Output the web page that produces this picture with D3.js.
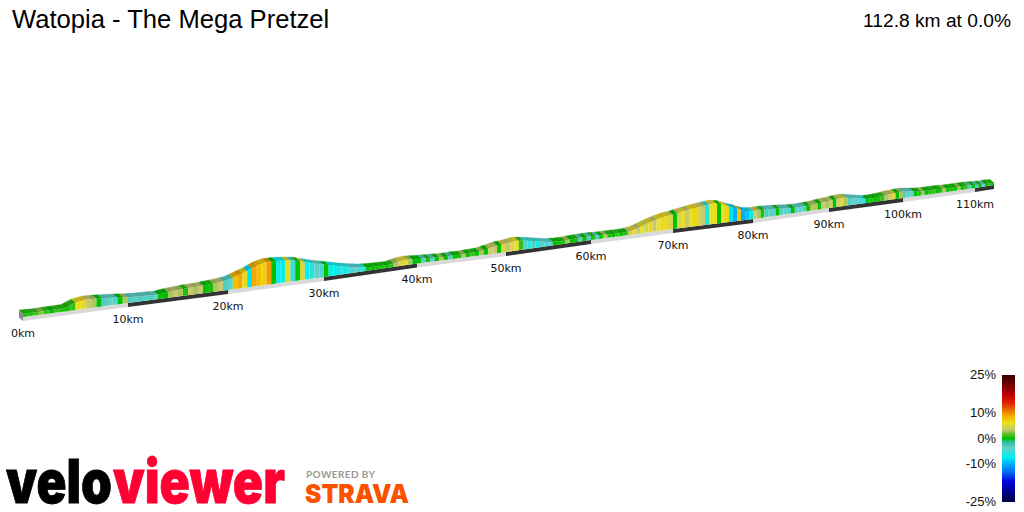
<!DOCTYPE html>
<html>
<head>
<meta charset="utf-8">
<title>Watopia - The Mega Pretzel</title>
<script src="https://cdn.jsdelivr.net/npm/d3@7"></script>
<style>
html, body { margin: 0; padding: 0; background: #fff; }
svg { display: block; }
text { font-family: "Liberation Sans", Arial, sans-serif; }
</style>
</head>
<body>
<svg id="chart" width="1024" height="512"></svg>
<script>
let routeTitle = 'Watopia - The Mega Pretzel';
let routeInfo = '112.8 km at 0.0%';
let routeLength = 112.8;

// perspective of the road: km -> screen position
let baseKm = [0, 10, 20, 30, 40, 50, 60, 70, 80, 90, 100, 110, 112.8];
let baseScreenX = [23, 128, 228, 324, 417, 506, 591, 673, 753, 829, 903, 975, 994];
let baseScreenY = [317, 303, 290, 277, 263.5, 252, 240, 229, 219, 208, 198, 188, 185];

// elevation (m) at each km, last one is the finish
let elevation = [
	50, 42, 44, 46, 48, 130, 160, 154, 136, 118,
	96, 84, 78, 72, 96, 110, 124, 128, 142, 156,
	180, 244, 308, 392, 436, 430, 414, 388, 332, 276,
	230, 183, 136, 96, 62, 46, 38, 32, 74, 88,
	70, 62, 54, 40, 48, 46, 52, 58, 96, 134,
	150, 176, 162, 128, 94, 60, 44, 44, 52, 56,
	58, 50, 46, 46, 44, 60, 108, 166, 214, 252,
	270, 300, 330, 350, 370, 390, 360, 290, 230, 160,
	140, 140, 130, 118, 106, 88, 82, 88, 96, 114,
	120, 140, 150, 120, 90, 60, 60, 70, 90, 100,
	110, 90, 70, 60, 60, 60, 50, 50, 50, 50,
	40, 30, 30, 20
];
let elevationKm = d3.range(0, 113).concat([routeLength]);

// gradient (%) of each 0.5 km strip
let grades = [
	0.5, 0.5, 1, 2.5, 1, 0, 1, 0.5, 0.5, 1,
	6, 6.5, 3.5, 3, 0, -3, -3.5, -4, 0, 3,
	-3, -3.5, -3, -4, -3, -3.5, 0, 0, 3, 3.5,
	3, 0.5, 3.5, 3, 3.5, 0, 0.5, 3, 3.5, -3,
	-4, 8, 9, 6.5, -8, 9, 8, 7, 9.5, 0,
	-7, -7.5, 6.5, -5, 0, 5, -7, -6, -3.5, -4.5,
	0, -7.5, -7, -6, -7, -5, -4, -4.5, -6, 0,
	0, 0, 0.5, 0, 1, 3, 5, 5.5, 3, 0,
	0, -3, 0.5, -3, 0, 3, 0, -3, 0, 0.5,
	3, 0, 1, 0, 3, 0, 4, 3.5, 0, 5,
	3.5, 5, 6, 1, -4, -6, -3, -7, -3.5, -5,
	-4, 0, 0, 0.5, 3, 0, 0.5, -3, 0, -3,
	0.5, -3, 0, 3, 0.5, 0, 1, 0, 0.5, 4,
	5.5, 3.5, 6, 4.5, 6.5, 3.5, 6, 6.5, 6.5, 4.5,
	0, 4.5, 6, 3.5, 6, 6.5, 4.5, 3.5, -6, 6,
	6, 0, 6, 6.5, -8, -10, 8, -10, -9, -7,
	4, 3, 0.5, -3, -4, -3.5, 0, -3, -4, -3,
	0, -3.5, -4, -3, 0, 3, 3, 0, 3.5, 3,
	4, 0, 4, 5, 3, -3, -3.5, -4, -5, -6,
	0, 0.5, 0, 0.5, 1, 3, 3.5, 5, 0, 3,
	-3, -4, -3.5, 0, 0.5, 3, 0, 0.5, 1, 0,
	0.5, 3, 0, 0.5, 0, 3, 0, 1, -3, 0,
	-3, 0, -3.5, 0, 0.5, 0
];

let kmTicks = [0, 10, 20, 30, 40, 50, 60, 70, 80, 90, 100, 110];

// legend colour ramp
let rampGrades = [-25, -21, -17, -13, -10, -7.5, -3.5, -1.5, 0, 1.5, 3.5, 6, 8, 10, 14, 17, 25];
let rampColors = ['#000040', '#000090', '#0000e0', '#0070f0', '#00b0ff', '#00f0f0', '#60d0c8', '#30c0a0',
	'#00c000', '#50c020', '#c8c870', '#e8e020', '#f5c000', '#f09000', '#e02000', '#c00000', '#300000'];
let legendTicks = [25, 10, 0, -10, -25];

let svg = d3.select('#chart');

let xAt = d3.scaleLinear().domain(baseKm).range(baseScreenX);
let yAt = d3.scaleLinear().domain(baseKm).range(baseScreenY);
let elevAt = d3.scaleLinear().domain(elevationKm).range(elevation);
let heightPx = d3.scaleLinear().domain([0, 600]).range([1, 31]);
let gradeColor = d3.scaleLinear().domain(rampGrades).range(rampColors);

let backX = -4, backY = -3.5;	// width of the road on screen
let bandH = 4;
let topDarken = 0.6;

function topY(km) {
	return yAt(km) - heightPx(elevAt(km));
}

function poly(pts) {
	return pts.map(p => p[0].toFixed(2) + ',' + p[1].toFixed(2)).join(' ');
}

// band under the road, light and dark every 10 km
let bandStarts = kmTicks.slice();
let band = svg.append('g');
band.selectAll('polygon').data(bandStarts).join('polygon')
	.attr('points', d => {
		let e = Math.min(d + 10, routeLength);
		return poly([[xAt(d), yAt(d)], [xAt(e), yAt(e)], [xAt(e), yAt(e) + bandH], [xAt(d), yAt(d) + bandH]]);
	})
	.attr('fill', (d, i) => i % 2 ? '#333333' : '#d9d9d9');

// end of the road, left side
svg.append('polygon')
	.attr('points', poly([[xAt(0) + backX, topY(0) + backY], [xAt(0), topY(0)], [xAt(0), yAt(0) + bandH], [xAt(0) + backX, yAt(0) + bandH + backY]]))
	.attr('fill', '#8a8a8a');

let strips = grades.map((g, i) => ({ grade: g, from: i * 0.5, to: Math.min((i + 1) * 0.5, routeLength) }));

// top surface of the road
svg.append('g').selectAll('polygon').data(strips).join('polygon')
	.attr('points', d => poly([
		[xAt(d.from), topY(d.from)], [xAt(d.to), topY(d.to)],
		[xAt(d.to) + backX, topY(d.to) + backY], [xAt(d.from) + backX, topY(d.from) + backY]
	]))
	.attr('fill', d => d3.color(gradeColor(d.grade)).darker(topDarken))
	.attr('stroke', d => d3.color(gradeColor(d.grade)).darker(topDarken))
	.attr('stroke-width', 0.3);

// front face
svg.append('g').selectAll('polygon').data(strips).join('polygon')
	.attr('points', d => poly([
		[xAt(d.from), topY(d.from)], [xAt(d.to), topY(d.to)],
		[xAt(d.to), yAt(d.to)], [xAt(d.from), yAt(d.from)]
	]))
	.attr('fill', d => gradeColor(d.grade));

// km labels
svg.append('g').selectAll('text').data(kmTicks).join('text')
	.attr('x', d => xAt(d))
	.attr('y', d => yAt(d) + 19.5)
	.attr('text-anchor', 'middle')
	.style('font-family', '"DejaVu Sans"')
	.style('font-size', '11px')
	.attr('fill', '#111')
	.text(d => d + 'km');

// titles
svg.append('text').attr('x', 12).attr('y', 28)
	.style('font-size', '25.6px').attr('fill', '#000').text(routeTitle);
svg.append('text').attr('x', 1011).attr('y', 27).attr('text-anchor', 'end')
	.style('font-size', '19.2px').attr('fill', '#000').text(routeInfo);

// legend
let legendY = d3.scaleLinear().domain([25, -25]).range([375, 502]);
let defs = svg.append('defs');
let grad = defs.append('linearGradient').attr('id', 'gradeRamp')
	.attr('x1', 0).attr('x2', 0).attr('y1', 0).attr('y2', 1);
grad.selectAll('stop').data(rampGrades.slice().reverse()).join('stop')
	.attr('offset', d => (25 - d) / 50)
	.attr('stop-color', d => gradeColor(d));
svg.append('rect').attr('x', 1002).attr('y', legendY(25)).attr('width', 13)
	.attr('height', legendY(-25) - legendY(25)).attr('fill', 'url(#gradeRamp)');
svg.append('g').selectAll('text').data(legendTicks).join('text')
	.attr('x', 996)
	.attr('y', d => legendY(d) + 4)
	.attr('text-anchor', 'end')
	.style('font-size', '13px')
	.attr('fill', '#111')
	.text(d => d + '%');

// logos
svg.append('text').attr('x', 6).attr('y', 503)
	.attr('textLength', 106).attr('lengthAdjust', 'spacingAndGlyphs')
	.style('font-family', 'Inter').style('font-weight', 900).style('font-size', '60px')
	.attr('fill', '#000').attr('stroke', '#000').attr('stroke-width', 0.8).text('velo');
svg.append('text').attr('x', 113).attr('y', 503)
	.attr('textLength', 172).attr('lengthAdjust', 'spacingAndGlyphs')
	.style('font-family', 'Inter').style('font-weight', 900).style('font-size', '60px')
	.attr('fill', '#ff0033').attr('stroke', '#ff0033').attr('stroke-width', 0.8).text('viewer');
svg.append('text').attr('x', 306).attr('y', 478)
	.attr('textLength', 69)
	.style('font-family', 'Lato').style('font-weight', 700).style('font-size', '10px')
	.attr('fill', '#999').text('POWERED BY');
svg.append('text').attr('x', 305).attr('y', 503)
	.attr('textLength', 104).attr('lengthAdjust', 'spacingAndGlyphs')
	.style('font-family', 'Inter').style('font-weight', 900).style('font-size', '26px')
	.attr('fill', '#fc5200').text('STRAVA');
</script>
</body>
</html>
